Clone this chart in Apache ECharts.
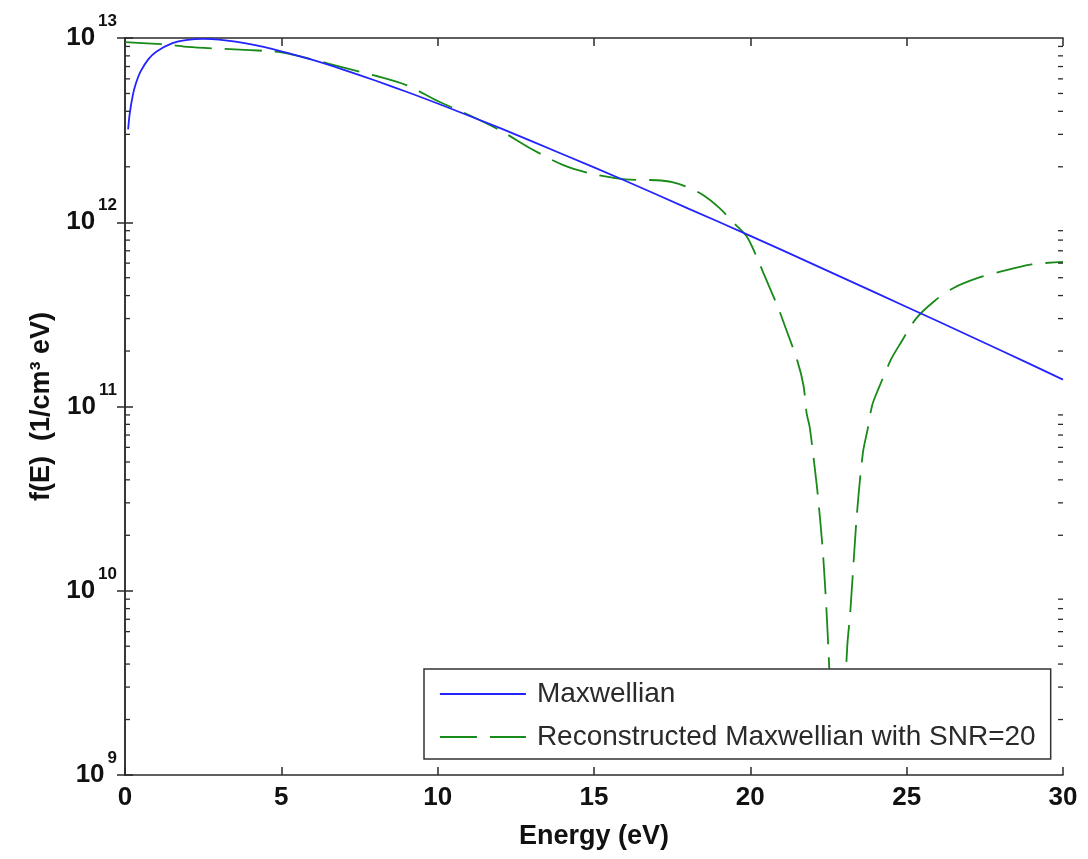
<!DOCTYPE html>
<html>
<head>
<meta charset="utf-8">
<title>Maxwellian energy distribution</title>
<script src="https://cdn.jsdelivr.net/npm/echarts@6/dist/echarts.min.js"></script>
<style>
  html, body { margin: 0; padding: 0; background: #fff; }
  #chart { width: 1088px; height: 859px; }
</style>
</head>
<body>
<div id="chart"></div>
<script>
// Maxwellian distribution f(E), 1/(cm^3 eV)
const energyMax = [0.1, 0.15, 0.25, 0.35, 0.5, 0.75, 1, 1.5, 2, 2.5, 3, 4, 5, 6, 7, 8, 9, 10,
  12, 14, 16, 18, 20, 22, 24, 26, 28, 30];
const fMax = [3.19e12, 3.87e12, 4.90e12, 5.68e12, 6.59e12, 7.68e12, 8.43e12, 9.35e12, 9.76e12,
  9.88e12, 9.79e12, 9.26e12, 8.47e12, 7.60e12, 6.72e12, 5.88e12, 5.11e12, 4.41e12,
  3.24e12, 2.34e12, 1.68e12, 1.19e12, 8.44e11, 5.93e11, 4.15e11, 2.90e11, 2.02e11, 1.40e11];

// Reconstruction from noisy data (SNR = 20); null where the estimate is not positive
const energyRec = [0, 1, 1.5, 2, 3, 4, 4.5, 5, 6, 7, 8, 9, 10, 11, 12, 13, 14, 15, 16, 17, 17.5,
  18, 18.5, 19, 19.5, 19.9, 20.2, 20.4, 20.9, 21.1, 21.5, 21.7, 21.8, 21.9, 22.05, 22.15, 22.3,
  22.4, 22.47, 22.55, 22.6, 22.8, 23.0, 23.1, 23.2, 23.4, 23.6, 23.75, 23.9, 24.1, 24.5, 24.8,
  25.3, 25.9, 26.5, 27.3, 28, 29, 30];
const fRec = [9.5e12, 9.3e12, 9.15e12, 8.95e12, 8.75e12, 8.6e12, 8.5e12, 8.35e12, 7.65e12,
  6.9e12, 6.25e12, 5.55e12, 4.55e12, 3.82e12, 3.15e12, 2.5e12, 2.05e12, 1.82e12, 1.71e12,
  1.69e12, 1.65e12, 1.55e12, 1.4e12, 1.2e12, 9.8e11, 8.3e11, 6.5e11, 5.4e11, 3.4e11, 2.75e11,
  1.78e11, 1.3e11, 9.2e10, 7.7e10, 4.8e10, 3.4e10, 1.8e10, 1.0e10, 6e9, 3e9, 1.6e9, null,
  2.2e9, 5e9, 7.8e9, 2.5e10, 5.6e10, 7.5e10, 1.02e11, 1.25e11, 1.8e11, 2.2e11, 3.0e11, 3.75e11,
  4.4e11, 5.0e11, 5.4e11, 5.9e11, 6.1e11];

const seriesNames = ['Maxwellian', 'Reconstructed Maxwellian with SNR=20'];
const xAxisTitle = 'Energy (eV)';
const yAxisTitle = 'f(E)  (1/cm\u00B3 eV)';

// Minor tick values on the logarithmic axis (2..9 within each decade)
const minorTickValues = [];
for (let d = 9; d < 13; d++) {
  for (let k = 2; k <= 9; k++) minorTickValues.push(k * Math.pow(10, d));
}

const FONT = "'Liberation Sans', Arial, sans-serif";
const AXIS_COLOR = '#2b2b2b';
const BLUE = '#2323ff';
const GREEN = '#178a17';
const DASH = [37, 13];

const chart = echarts.init(document.getElementById('chart'), null, { renderer: 'canvas' });

const logAxisBase = {
  type: 'log',
  logBase: 10,
  min: 1e9,
  max: 1e13,
  interval: 1,
  splitLine: { show: false },
  minorTick: { show: false },
  axisLine: { show: true, lineStyle: { color: AXIS_COLOR, width: 1.5 } },
  axisTick: { show: true, inside: true, length: 8, lineStyle: { color: AXIS_COLOR, width: 1.5 } }
};

const linAxisBase = {
  type: 'value',
  min: 0,
  max: 30,
  interval: 5,
  splitLine: { show: false },
  axisLine: { show: true, onZero: false, lineStyle: { color: AXIS_COLOR, width: 1.5 } },
  axisTick: { show: true, inside: true, length: 8, lineStyle: { color: AXIS_COLOR, width: 1.5 } }
};

const option = {
  animation: false,
  backgroundColor: '#ffffff',
  grid: { left: 125, right: 25, top: 38, bottom: 84, containLabel: false },
  xAxis: [
    Object.assign({}, linAxisBase, {
      position: 'bottom',
      name: xAxisTitle,
      nameLocation: 'middle',
      nameGap: 48,
      nameTextStyle: { fontFamily: FONT, fontWeight: 'bold', fontSize: 27, color: '#111' },
      axisLabel: { show: true, margin: 10, fontFamily: FONT, fontWeight: 'bold', fontSize: 26, color: '#111' }
    }),
    Object.assign({}, linAxisBase, { position: 'top', axisLabel: { show: false } })
  ],
  yAxis: [
    Object.assign({}, logAxisBase, {
      position: 'left',
      name: yAxisTitle,
      nameLocation: 'middle',
      nameGap: 70,
      nameTextStyle: { fontFamily: FONT, fontWeight: 'bold', fontSize: 27, color: '#111' },
      axisLabel: {
        show: true,
        margin: 8,
        formatter: function (v) {
          const exp = Math.round(Math.log10(v));
          return '{b|10}{s|' + exp + '}';
        },
        rich: {
          b: { fontFamily: FONT, fontWeight: 'bold', fontSize: 26, lineHeight: 26, color: '#111' },
          s: { fontFamily: FONT, fontWeight: 'bold', fontSize: 17, lineHeight: 17, color: '#111',
               padding: [0, 0, 33, 3] }
        }
      }
    }),
    Object.assign({}, logAxisBase, { position: 'right', axisLabel: { show: false } })
  ],
  legend: {
    data: [
      { name: seriesNames[0], lineStyle: { color: BLUE, width: 1.8, type: 'solid' } },
      { name: seriesNames[1], lineStyle: { color: GREEN, width: 1.8, type: DASH } }
    ],
    orient: 'vertical',
    left: 424,
    top: 669,
    padding: [10, 15, 7, 15],
    itemGap: 13,
    itemWidth: 86,
    itemHeight: 20,
    selectedMode: false,
    itemStyle: { opacity: 0 },
    backgroundColor: '#ffffff',
    borderColor: '#333333',
    borderWidth: 1.5,
    borderRadius: 0,
    textStyle: { fontFamily: FONT, fontSize: 28, lineHeight: 30, color: '#2a2a2a', padding: [0, 0, 0, 6] }
  },
  series: [
    {
      name: seriesNames[0],
      type: 'line',
      data: energyMax.map((e, i) => [e, fMax[i]]),
      symbol: 'none',
      smooth: 0.3,
      lineStyle: { color: BLUE, width: 1.8 },
      itemStyle: { color: BLUE },
      z: 3
    },
    {
      name: seriesNames[1],
      type: 'line',
      data: energyRec.map((e, i) => [e, fRec[i] === null ? '-' : fRec[i]]),
      symbol: 'none',
      smooth: 0.3,
      connectNulls: false,
      lineStyle: { color: GREEN, width: 1.8, type: DASH },
      itemStyle: { color: GREEN },
      z: 2
    },
    {
      name: 'minorTicks',
      type: 'custom',
      silent: true,
      clip: false,
      z: 4,
      data: minorTickValues.map(v => [0, v]),
      encode: { x: 0, y: 1 },
      renderItem: function (params, api) {
        const v = api.value(1);
        const pl = api.coord([0, v]);
        const pr = api.coord([30, v]);
        const st = { stroke: AXIS_COLOR, lineWidth: 1.3 };
        return {
          type: 'group',
          children: [
            { type: 'line', shape: { x1: pl[0], y1: pl[1], x2: pl[0] + 5, y2: pl[1] }, style: st },
            { type: 'line', shape: { x1: pr[0], y1: pr[1], x2: pr[0] - 5, y2: pr[1] }, style: st }
          ]
        };
      }
    }
  ]
};

chart.setOption(option);
</script>
</body>
</html>
